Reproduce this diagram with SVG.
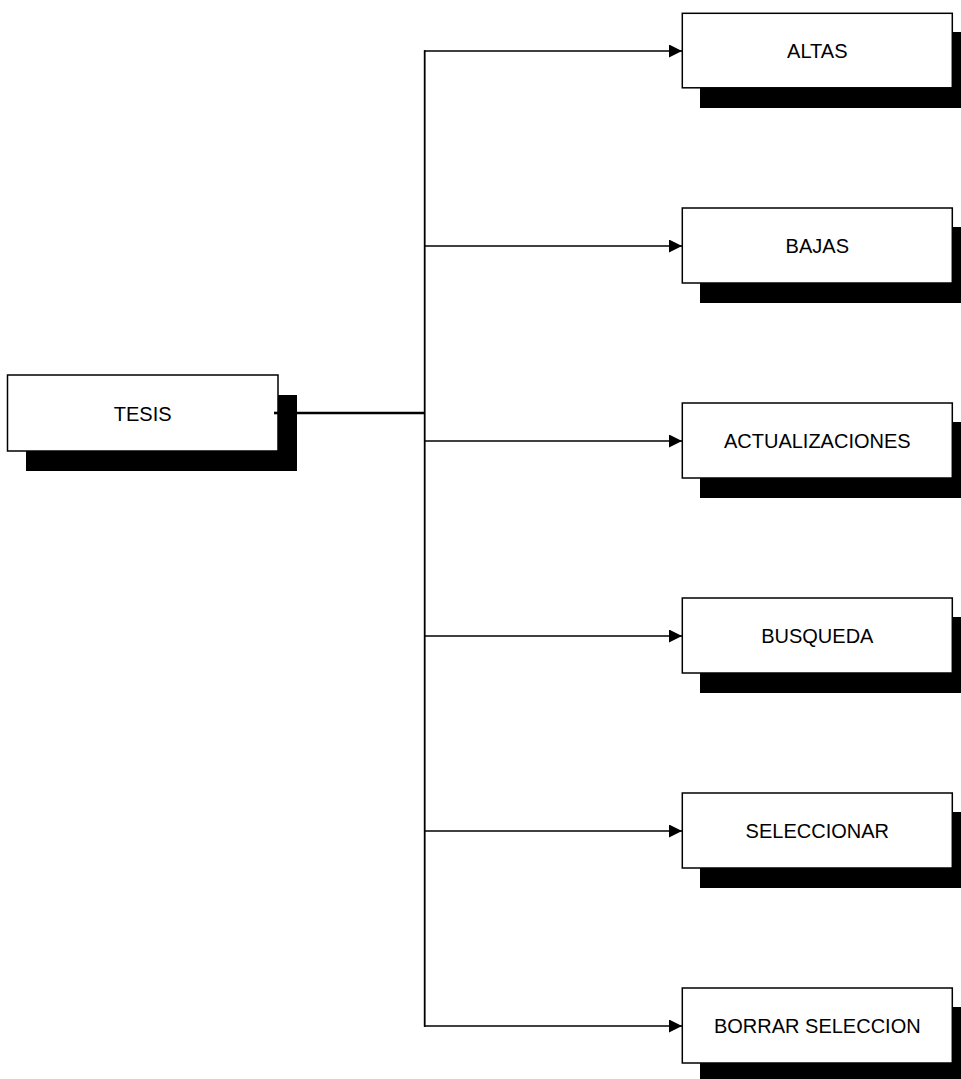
<svg xmlns="http://www.w3.org/2000/svg" width="961" height="1079" viewBox="0 0 961 1079">
<style>
.box{fill:#fff;stroke:#000;stroke-width:1.5}
.sh{fill:#000}
.lbl{font-family:"Liberation Sans",Arial,sans-serif;font-size:20px;fill:#000;text-anchor:middle}
.ln{fill:none;stroke:#000;stroke-width:1.6}
</style>
<defs>
<marker id="ah" markerWidth="13" markerHeight="13" refX="13" refY="6.5" orient="auto" markerUnits="userSpaceOnUse">
<path d="M0,0 L13,6.5 L0,13 Z" fill="#000"/>
</marker>
</defs>
<rect width="961" height="1079" fill="#fff"/>
<g id="connectors">
<line x1="275" y1="413" x2="425" y2="413" stroke="#000" stroke-width="2.6"/>
<line x1="424.7" y1="50.3" x2="424.7" y2="1026.7" stroke="#000" stroke-width="1.8"/>
<path class="ln" d="M424,51 H682" marker-end="url(#ah)"/>
<path class="ln" d="M424,246 H682" marker-end="url(#ah)"/>
<path class="ln" d="M424,441 H682" marker-end="url(#ah)"/>
<path class="ln" d="M424,636 H682" marker-end="url(#ah)"/>
<path class="ln" d="M424,831 H682" marker-end="url(#ah)"/>
<path class="ln" d="M424,1026 H682" marker-end="url(#ah)"/>
</g>
<g id="tesis">
<rect class="sh" x="26" y="395" width="271" height="76"/>
<rect class="box" x="7.5" y="375" width="270.5" height="76"/>
<line x1="274" y1="413" x2="297" y2="413" stroke="#000" stroke-width="2.6"/>
<text class="lbl" x="142.7" y="420.5">TESIS</text>
</g>
<g id="altas">
<rect class="sh" x="700" y="32" width="270" height="76"/>
<rect class="box" x="682.3" y="13.3" width="270" height="74.5"/>
<text class="lbl" x="817.3" y="58">ALTAS</text>
</g>
<g id="bajas">
<rect class="sh" x="700" y="227" width="270" height="76"/>
<rect class="box" x="682.3" y="208" width="270" height="75"/>
<text class="lbl" x="817.3" y="253">BAJAS</text>
</g>
<g id="actualizaciones">
<rect class="sh" x="700" y="422" width="270" height="76"/>
<rect class="box" x="682.3" y="403" width="270" height="75"/>
<text class="lbl" x="817.3" y="448">ACTUALIZACIONES</text>
</g>
<g id="busqueda">
<rect class="sh" x="700" y="617" width="270" height="76"/>
<rect class="box" x="682.3" y="598" width="270" height="75"/>
<text class="lbl" x="817.3" y="643">BUSQUEDA</text>
</g>
<g id="seleccionar">
<rect class="sh" x="700" y="812" width="270" height="76"/>
<rect class="box" x="682.3" y="793" width="270" height="75"/>
<text class="lbl" x="817.3" y="838">SELECCIONAR</text>
</g>
<g id="borrar-seleccion">
<rect class="sh" x="700" y="1007" width="270" height="76"/>
<rect class="box" x="682.3" y="988" width="270" height="75"/>
<text class="lbl" x="817.3" y="1033">BORRAR SELECCION</text>
</g>
</svg>
